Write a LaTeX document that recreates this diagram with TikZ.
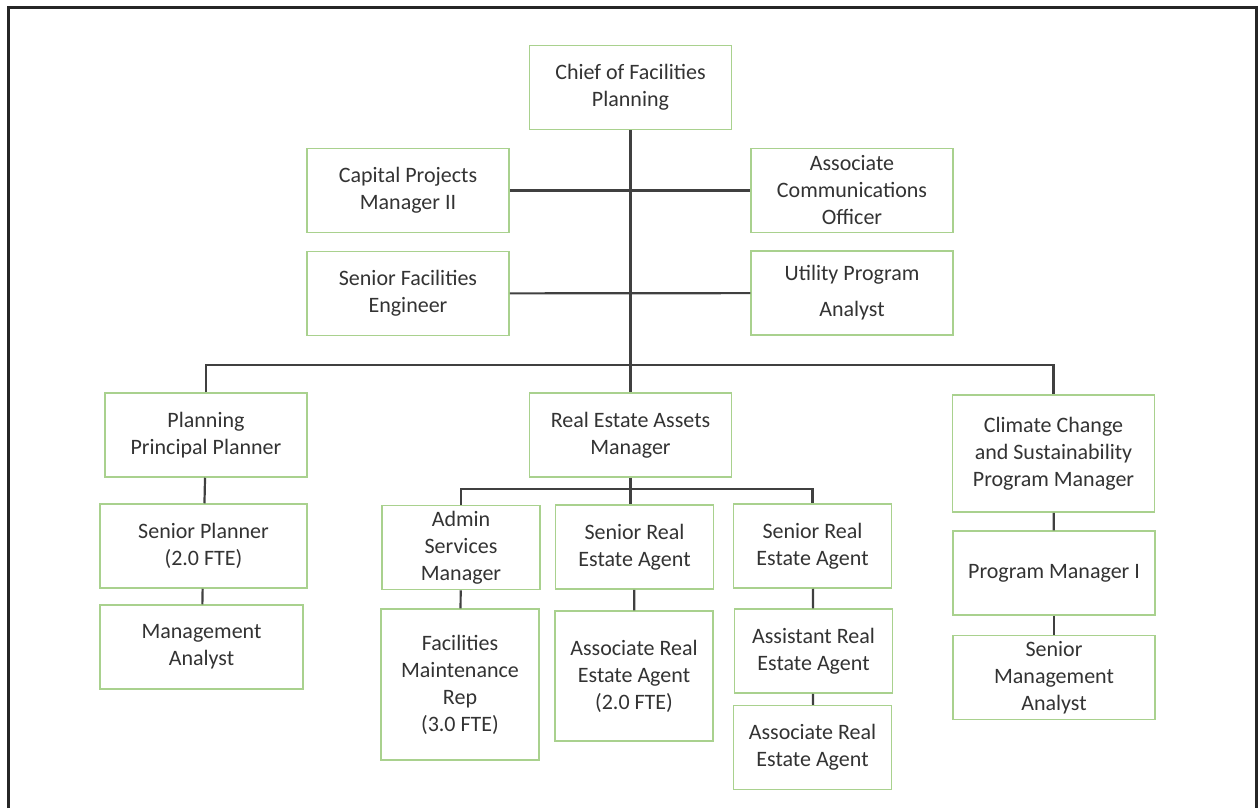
\documentclass[tikz,border=0pt]{standalone}
\usepackage{fontspec}
\setmainfont{Carlito}
\definecolor{boxgreen}{HTML}{A9D18E}
\definecolor{linkgray}{HTML}{404040}
\tikzset{
  post/.style={draw=boxgreen, line width=1.5pt, fill=white, align=center, inner sep=2pt,
    font=\fontsize{22}{27}\selectfont, text=black!80},
  wide/.style={minimum width=202pt, minimum height=84pt},
  narrow/.style={minimum width=158pt, minimum height=84pt},
  link/.style={draw=linkgray, line width=2.2pt},
}
\begin{document}
\begin{tikzpicture}[x=1pt,y=-1pt]
  \useasboundingbox (0,0) rectangle (1260,808);
  % Frame
  \draw[line width=3pt, black!85] (8,808) -- (8,8) -- (1256,8) -- (1256,808);
  % Top levels
  \node[post,wide] (chief) at (630.5,87.5) {Chief of Facilities\\Planning};
  \node[post,wide] (cap) at (408,190.5) {Capital Projects\\Manager II};
  \node[post,wide] (comm) at (852,190.5) {Associate\\Communications\\Officer};
  \node[post,wide] (sfe) at (408,293.5) {Senior Facilities\\Engineer};
  \node[post,wide] (util) at (852,293) {Utility Program\\[9pt]Analyst};
  % Division heads
  \node[post,wide] (ppp) at (206,435) {Planning\\Principal Planner};
  \node[post,wide] (ream) at (630.5,435) {Real Estate Assets\\Manager};
  \node[post,wide,minimum height=117pt] (ccs) at (1053.5,453.5) {Climate Change\\and Sustainability\\Program Manager};
  % Planning
  \node[post,wide,minimum width=207pt] (sp) at (203.5,546) {Senior Planner\\(2.0 FTE)};
  \node[post,wide,minimum width=203pt] (ma) at (201.5,647) {Management\\Analyst};
  % Real estate
  \node[post,narrow] (adm) at (461,547.5) {Admin\\Services\\Manager};
  \node[post,narrow] (sre1) at (634.5,547) {Senior Real\\Estate Agent};
  \node[post,narrow] (sre2) at (812.5,546) {Senior Real\\Estate Agent};
  \node[post,narrow,minimum height=151pt] (fmr) at (460,684.5) {Facilities\\Maintenance\\Rep\\(3.0 FTE)};
  \node[post,narrow,minimum height=130pt] (area1) at (634,676) {Associate Real\\Estate Agent\\(2.0 FTE)};
  \node[post,narrow] (asst) at (813.5,651) {Assistant Real\\Estate Agent};
  \node[post,narrow] (area2) at (812.5,747.5) {Associate Real\\Estate Agent};
  % Climate
  \node[post,wide] (pm1) at (1054,573) {Program Manager I};
  \node[post,wide] (sma) at (1054,677.5) {Senior\\Management\\Analyst};
  % Connectors
  \coordinate (bar) at (630,365);
  \coordinate (rebar) at (630,489);
  \begin{scope}[on background layer/.try]
    \draw[link] (chief) -- (ream);
    \draw[link] (cap) -- (comm);
    \draw[link] (sfe) -- (util);
    \draw[link] (ppp.north) |- (bar) -| (ccs.north);
    \draw[link] (adm.north) |- (rebar) -| (sre2.north);
    \draw[link] (ream.south) -- (ream.south |- sre1.north);
  \end{scope}
  \foreach \a/\b in {ppp/sp,sp/ma,adm/fmr,sre1/area1,sre2/asst,asst/area2,ccs/pm1,pm1/sma}
    {\draw[link] (\a) -- (\b);}
\end{tikzpicture}
\end{document}
